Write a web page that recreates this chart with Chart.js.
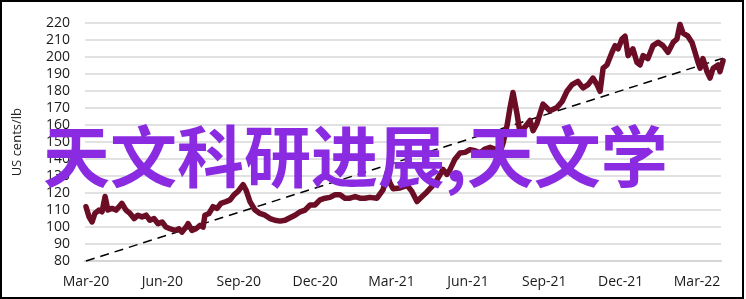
<!DOCTYPE html>
<html>
<head>
<meta charset="utf-8">
<script src="https://cdn.jsdelivr.net/npm/chart.js@4/dist/chart.umd.min.js"></script>
<style>
  html, body { margin: 0; padding: 0; background: #fff; }
  #wrap { position: relative; width: 746px; height: 299px; }
</style>
</head>
<body>
<div id="wrap"><canvas id="priceChart" width="746" height="299"></canvas></div>
<script>
// months since the start of Mar-20, and price in US cents/lb
const months = [
  0.00, 0.12, 0.24, 0.35, 0.51, 0.63, 0.75, 0.86, 1.02, 1.18, 1.30, 1.41, 1.57, 1.73, 1.89,
  2.04, 2.20, 2.36, 2.51, 2.67, 2.83, 2.99, 3.14, 3.30, 3.50, 3.65, 3.77, 3.93, 4.01, 4.16,
  4.32, 4.48, 4.60, 4.67, 4.83, 4.99, 5.15, 5.30, 5.50, 5.66, 5.81, 5.97, 6.17, 6.28, 6.44,
  6.64, 6.83, 7.03, 7.23, 7.42, 7.62, 7.82, 8.01, 8.21, 8.41, 8.60, 8.80, 8.99, 9.19, 9.39,
  9.58, 9.78, 9.98, 10.17, 10.37, 10.57, 10.76, 10.96, 11.15, 11.43, 11.67, 11.82, 11.94, 12.06, 12.33,
  12.61, 12.80, 13.00, 13.20, 13.39, 13.59, 13.79, 14.02, 14.18, 14.30, 14.49, 14.69, 14.89, 15.08, 15.28,
  15.48, 15.67, 15.87, 16.06, 16.26, 16.38, 16.54, 16.65, 16.77, 16.93, 17.05, 17.24, 17.44, 17.56, 17.71,
  17.95, 18.22, 18.50, 18.70, 18.89, 19.09, 19.32, 19.52, 19.72, 19.91, 20.07, 20.19, 20.31, 20.46, 20.66,
  20.78, 20.90, 21.05, 21.17, 21.29, 21.48, 21.64, 21.76, 21.88, 22.07, 22.27, 22.47, 22.66, 22.86, 23.06,
  23.21, 23.33, 23.45, 23.64, 23.80, 23.92, 24.04, 24.12, 24.23, 24.39, 24.51, 24.63, 24.82, 24.90, 25.02
];
const price = [
  112, 106, 103, 108, 110, 109, 118, 110, 111, 110, 112, 114, 110, 108, 105,
  107, 106, 107, 104, 105, 102, 103, 100, 99, 98, 99, 97, 100, 102, 98,
  99, 101, 100, 107, 108, 112, 111, 114, 115, 116, 119, 121, 125, 122, 115,
  110, 108, 107, 105, 104, 103.5, 104, 105.5, 107, 109, 110, 113, 113, 116, 117,
  117.5, 119, 119, 117, 117, 118, 117, 117, 117.5, 117, 122, 132, 126, 122.6, 123,
  124.6, 121, 115, 118, 120.7, 124, 128, 134, 131, 134, 140, 143.7, 144, 145.6, 145,
  143.7, 146, 147, 146, 144, 149.5, 160, 170, 179.3, 166.6, 155, 159, 162.8, 156.8, 161,
  172.4, 168.5, 170.5, 174, 180, 183.9, 185.8, 182, 183.9, 187.8, 183.9, 180, 193.6, 195.5, 203,
  206.9, 205, 210.8, 212.5, 201, 205, 197, 195.5, 201, 199.3, 206.9, 208.8, 206.9, 203, 208.8,
  210.8, 219.4, 214.3, 212.5, 208.8, 203, 197, 193.6, 199.3, 191.6, 187.8, 193.6, 195.5, 191.6, 198
];
const trendMonths = [0, 25.02];
const trendValues = [80, 199.5];
const quarterLabels = ["Mar-20", "Jun-20", "Sep-20", "Dec-20", "Mar-21", "Jun-21", "Sep-21", "Dec-21", "Mar-22"];
const overlayText = "天文科研进展,天文学";

const tickFont = { family: "'Open Sans', sans-serif", size: 14 };

// big purple caption and the black frame
const overlayPlugin = {
  id: "overlay",
  afterDraw(chart) {
    const ctx = chart.ctx;
    ctx.save();
    ctx.font = "bold 67px 'Noto Sans CJK SC'";
    ctx.fillStyle = "#8a2be2";
    ctx.textBaseline = "middle";
    ctx.textAlign = "left";
    ctx.fillText(overlayText, 43, 157);
    ctx.lineWidth = 2;
    ctx.strokeStyle = "#000";
    ctx.strokeRect(1, 1, 742, 297);
    ctx.restore();
  }
};

const chart = new Chart("priceChart", {
  type: "line",
  data: {
    datasets: [
      {
        label: "Price",
        data: months.map((m, i) => ({ x: m, y: price[i] })),
        borderColor: "#6b0d25",
        borderWidth: 5.5,
        pointRadius: 0,
        tension: 0,
        clip: false,
        borderJoinStyle: "round",
        borderCapStyle: "round",
      },
      {
        label: "Trend",
        data: trendMonths.map((m, i) => ({ x: m, y: trendValues[i] })),
        borderColor: "#000",
        borderWidth: 1.5,
        borderDash: [9, 6],
        pointRadius: 0,
        clip: false,
      },
    ],
  },
  options: {
    responsive: false,
    animation: false,
    events: [],
    layout: { padding: { left: 5, right: 25, top: 17, bottom: 4 } },
    plugins: { legend: { display: false }, tooltip: { enabled: false } },
    scales: {
      x: {
        type: "linear",
        min: -0.039,
        max: 24.94,
        afterFit(scale) { scale.height = 34; },
        afterBuildTicks(scale) {
          scale.ticks = quarterLabels.map((_, i) => ({ value: i * 3 }));
        },
        ticks: {
          padding: 13,
          maxRotation: 0,
          autoSkip: false,
          color: "#1a1a1a",
          font: tickFont,
          callback: (v) => quarterLabels[Math.round(v / 3)],
        },
        grid: { display: false, drawTicks: false },
        border: { display: true, color: "#d6d6d6", width: 2 },
      },
      y: {
        min: 80,
        max: 220,
        afterFit(scale) { scale.width = 80; },
        ticks: { stepSize: 10, autoSkip: false, padding: 15, color: "#1a1a1a", font: tickFont },
        // dotted grey in the picture; a light solid line stands in for it
        grid: { drawTicks: false, lineWidth: 2, color: "#e1e1e1" },
        border: { display: false },
        title: {
          display: true,
          text: "US cents/lb",
          color: "#222",
          font: { family: "'Open Sans', sans-serif", size: 13 },
        },
      },
    },
  },
  plugins: [overlayPlugin],
});
</script>
</body>
</html>
